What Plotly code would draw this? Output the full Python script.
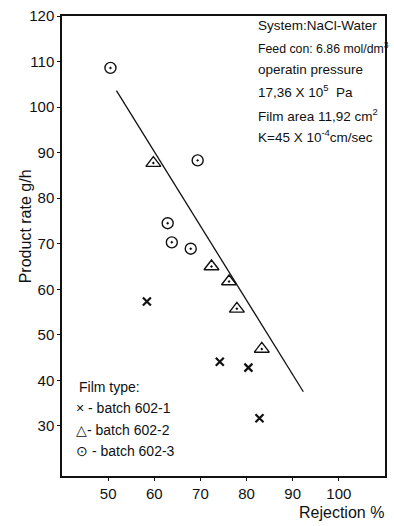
import plotly.graph_objects as go

# Data
b1_x = [58.4, 74.2, 80.4, 82.8]
b1_y = [57.3, 44.1, 42.8, 31.7]
b2_x = [59.8, 72.4, 76.2, 77.9, 83.3]
b2_y = [87.7, 65.0, 61.7, 55.7, 46.9]
b3_x = [50.5, 69.4, 62.9, 63.8, 67.9]
b3_y = [108.6, 88.3, 74.5, 70.3, 68.9]
fit_x = [51.8, 92.3]
fit_y = [103.6, 37.5]
x_ticks = [50, 60, 70, 80, 90, 100]
y_ticks = [30, 40, 50, 60, 70, 80, 90, 100, 110, 120]
info_lines = [
    "System:NaCl-Water",
    "Feed con: 6.86 mol/dm<sup>3</sup>",
    "operatin pressure",
    "17,36 X 10<sup>5</sup>  Pa",
    "Film area 11,92 cm<sup>2</sup>",
    "K=45 X 10<sup>-4</sup>cm/sec",
]
info_y_px = [24, 46, 68, 89, 113, 135]
info_size = [13.5, 12.3, 13.5, 13.5, 13.5, 13.5]
legend_title = "Film type:"
legend_lines = ["× - batch 602-1", "△- batch 602-2", "⊙ - batch 602-3"]
legend_y_px = [408, 430, 451]

W, H = 394, 526
ML, MR, MT, MB = 62, 7, 14, 50
PW, PH = W - ML - MR, H - MT - MB

def px_to_paper_x(px):
    return (px - ML) / PW

def px_to_paper_y(py):
    return 1 - (py - MT) / PH

FONT = "Liberation Sans, Arial, sans-serif"
INK = "#111111"

fig = go.Figure()
fig.add_trace(go.Scatter(x=fit_x, y=fit_y, mode="lines",
                         line=dict(color=INK, width=1.3), showlegend=False))
fig.add_trace(go.Scatter(x=b1_x, y=b1_y, mode="markers", name="batch 602-1",
                         marker=dict(symbol="x-thin", size=8, color=INK,
                                     line=dict(color=INK, width=2.2))))
fig.add_trace(go.Scatter(x=b2_x, y=b2_y, mode="markers", name="batch 602-2",
                         marker=dict(symbol="triangle-up-open-dot", size=13, color=INK,
                                     line=dict(color=INK, width=1.4))))
fig.add_trace(go.Scatter(x=b3_x, y=b3_y, mode="markers", name="batch 602-3",
                         marker=dict(symbol="circle-open-dot", size=11, color=INK,
                                     line=dict(color=INK, width=1.4))))

annotations = []
for txt, ypx, sz in zip(info_lines, info_y_px, info_size):
    annotations.append(dict(text=txt, xref="paper", yref="paper",
                            x=px_to_paper_x(257), y=px_to_paper_y(ypx),
                            xanchor="left", yanchor="middle", showarrow=False,
                            font=dict(family=FONT, size=sz, color=INK)))
annotations.append(dict(text=legend_title, xref="paper", yref="paper",
                        x=px_to_paper_x(77), y=px_to_paper_y(387),
                        xanchor="left", yanchor="middle", showarrow=False,
                        font=dict(family=FONT, size=14, color=INK)))
for txt, ypx in zip(legend_lines, legend_y_px):
    annotations.append(dict(text=txt, xref="paper", yref="paper",
                            x=px_to_paper_x(74), y=px_to_paper_y(ypx),
                            xanchor="left", yanchor="middle", showarrow=False,
                            font=dict(family=FONT, size=14, color=INK)))
annotations.append(dict(text="Product rate g/h", xref="paper", yref="paper",
                        x=px_to_paper_x(25), y=px_to_paper_y(225), textangle=-90,
                        xanchor="center", yanchor="middle", showarrow=False,
                        font=dict(family=FONT, size=16, color=INK)))
annotations.append(dict(text="Rejection %", xref="paper", yref="paper",
                        x=px_to_paper_x(388), y=px_to_paper_y(513),
                        xanchor="right", yanchor="middle", showarrow=False,
                        font=dict(family=FONT, size=16, color=INK)))

fig.update_layout(
    width=W, height=H,
    margin=dict(l=ML, r=MR, t=MT, b=MB),
    paper_bgcolor="white", plot_bgcolor="white",
    font=dict(family=FONT, size=15, color=INK),
    annotations=annotations,
    showlegend=False,
    xaxis=dict(range=[40, 110], tickvals=x_ticks, ticks="outside", ticklen=3,
               tickcolor=INK, showline=True, linecolor=INK, linewidth=1.5, mirror=True,
               showgrid=False, zeroline=False, tickfont=dict(size=15)),
    yaxis=dict(range=[19, 120], tickvals=y_ticks, ticks="outside", ticklen=3,
               tickcolor=INK, showline=True, linecolor=INK, linewidth=1.5, mirror=True,
               showgrid=False, zeroline=False, tickfont=dict(size=15)),
)

fig.write_html("out.html", config={"displayModeBar": False},
               post_script="document.body.style.margin='0';document.body.style.overflow='hidden';")
